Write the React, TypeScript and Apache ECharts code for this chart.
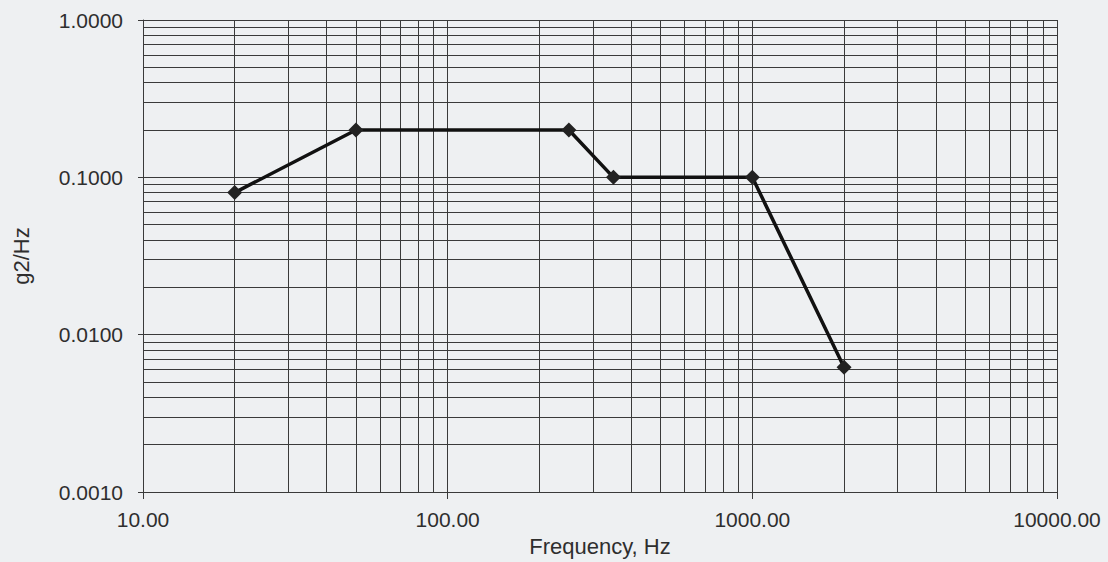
import React, { useEffect, useRef } from "react";
import * as echarts from "echarts";

const frequencies = [20, 50, 250, 350, 1000, 2000];
const psdValues = [0.08, 0.2, 0.2, 0.1, 0.1, 0.0062];
const xMinorGrid = [20, 30, 40, 50, 60, 70, 80, 90, 200, 300, 400, 500, 600, 700, 800, 900, 2000, 3000, 4000, 5000, 6000, 7000, 8000, 9000];
const yMinorGrid = [0.002, 0.003, 0.004, 0.005, 0.006, 0.007, 0.008, 0.009, 0.02, 0.03, 0.04, 0.05, 0.06, 0.07, 0.08, 0.09, 0.2, 0.3, 0.4, 0.5, 0.6, 0.7, 0.8, 0.9];
const xRange = [10, 10000];
const yRange = [0.001, 1];
const xTitle = "Frequency, Hz";
const yTitle = "g2/Hz";

const BG = "#eef0f2";
const GRID = "#3a3a3a";
const TEXT = "#2e2e2e";
const FONT = "'Liberation Sans', Arial, sans-serif";

export default function App() {
  const ref = useRef<HTMLDivElement>(null);
  useEffect(() => {
    if (!ref.current) return;
    const chart = echarts.init(ref.current, null, { renderer: "svg" });
    const minorLines = [
      ...xMinorGrid.map((v) => ({ coords: [[v, yRange[0]], [v, yRange[1]]] })),
      ...yMinorGrid.map((v) => ({ coords: [[xRange[0], v], [xRange[1], v]] })),
    ];
    chart.setOption({
      animation: false,
      backgroundColor: BG,
      textStyle: { fontFamily: FONT },
      grid: { left: 143, right: 51, top: 20, bottom: 69 },
      xAxis: {
        type: "log",
        logBase: 10,
        min: xRange[0],
        max: xRange[1],
        name: xTitle,
        nameLocation: "middle",
        nameGap: 43,
        nameTextStyle: { fontSize: 22, color: TEXT, fontFamily: FONT },
        axisLine: { show: true, onZero: false, lineStyle: { color: GRID, width: 1 } },
        axisTick: { show: true, length: 7, lineStyle: { color: GRID } },
        axisLabel: {
          fontSize: 21,
          color: TEXT,
          margin: 17,
          fontFamily: FONT,
          showMinLabel: true,
          showMaxLabel: true,
          formatter: (v: number) => v.toFixed(2),
        },
        splitLine: { show: true, lineStyle: { color: GRID, width: 1 } },
      },
      yAxis: {
        type: "log",
        logBase: 10,
        min: yRange[0],
        max: yRange[1],
        name: yTitle,
        nameLocation: "middle",
        nameGap: 111,
        nameRotate: 90,
        nameTextStyle: { fontSize: 22, color: TEXT, fontFamily: FONT },
        axisLine: { show: true, onZero: false, lineStyle: { color: GRID, width: 1 } },
        axisTick: { show: true, length: 5, lineStyle: { color: GRID } },
        axisLabel: {
          fontSize: 21,
          color: TEXT,
          margin: 20,
          fontFamily: FONT,
          showMinLabel: true,
          showMaxLabel: true,
          formatter: (v: number) => v.toFixed(4),
        },
        splitLine: { show: true, lineStyle: { color: GRID, width: 1 } },
      },
      series: [
        {
          type: "lines",
          coordinateSystem: "cartesian2d",
          silent: true,
          polyline: false,
          lineStyle: { color: GRID, width: 1, opacity: 1 },
          data: minorLines,
          z: 1,
        },
        {
          type: "line",
          data: frequencies.map((f, i) => [f, psdValues[i]]),
          symbol: "diamond",
          symbolSize: 15,
          itemStyle: { color: "#222" },
          lineStyle: { color: "#111", width: 3.5 },
          z: 5,
        },
      ],
    });
    return () => chart.dispose();
  }, []);
  return (
    <div
      ref={ref}
      style={{ position: "fixed", left: 0, top: 0, width: 1108, height: 562, background: BG }}
    />
  );
}
